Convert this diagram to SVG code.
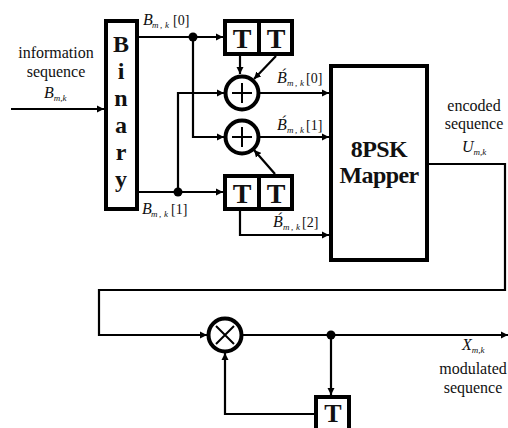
<svg xmlns="http://www.w3.org/2000/svg" width="508" height="428" viewBox="0 0 508 428">
<style>
text{font-family:"Liberation Serif","Times New Roman",serif;fill:#111}
.b{font-weight:bold;font-size:24px;text-anchor:middle}
.t{font-weight:bold;font-size:28px;text-anchor:middle}
.m{font-weight:bold;font-size:24px;text-anchor:middle;letter-spacing:-0.6px}
.l{font-size:16px;text-anchor:middle}
.v{font-size:16px;font-style:italic}
.s{font-size:9px;font-style:italic}
.n{font-size:14px;font-style:normal}
.box{fill:#fff;stroke:#000;stroke-width:4}
.c{fill:none;stroke:#000;stroke-width:2.2}
.o{fill:#fff;stroke:#000;stroke-width:4}
.g{fill:none;stroke:#000;stroke-width:2}
</style>
<defs>
<marker id="a" markerUnits="userSpaceOnUse" markerWidth="8" markerHeight="8" refX="7" refY="4" orient="auto"><path d="M0 0.5L7 4L0 7.5Z" fill="#000"/></marker>
</defs>
<g id="connectors">
<path class="c" d="M11 109H104" marker-end="url(#a)"/>
<path class="c" d="M139 37H223" marker-end="url(#a)"/>
<path class="c" d="M139 192H223" marker-end="url(#a)"/>
<path class="c" d="M193 37V137H224" marker-end="url(#a)"/>
<path class="c" d="M178 192V93H224" marker-end="url(#a)"/>
<path class="c" d="M240 55V74" marker-end="url(#a)"/>
<path class="c" d="M276 56L254 79" marker-end="url(#a)"/>
<path class="c" d="M275 174L254 150" marker-end="url(#a)"/>
<path class="c" d="M260 93H329" marker-end="url(#a)"/>
<path class="c" d="M260 137H329" marker-end="url(#a)"/>
<path class="c" d="M240 211V235H329" marker-end="url(#a)"/>
<path class="c" d="M429 164H505V290H99V335H207" marker-end="url(#a)"/>
<path class="c" d="M243 335H508" marker-end="url(#a)"/>
<path class="c" d="M331 335V395" marker-end="url(#a)"/>
<path class="c" d="M314 414H225V353" marker-end="url(#a)"/>
<circle cx="193" cy="37" r="4.5"/>
<circle cx="178" cy="192" r="4.5"/>
<circle cx="331" cy="335" r="4.5"/>
</g>
<g id="binary">
<rect class="box" x="106" y="21" width="31" height="188"/>
<text class="b" x="121" y="52">B</text>
<text class="b" x="121" y="79">i</text>
<text class="b" x="121" y="106">n</text>
<text class="b" x="121" y="133">a</text>
<text class="b" x="121" y="160">r</text>
<text class="b" x="121" y="187">y</text>
</g>
<g id="delay-top-1"><rect class="box" x="225" y="21" width="34" height="33"/><text class="t" x="242" y="48">T</text></g>
<g id="delay-top-2"><rect class="box" x="259" y="21" width="33" height="33"/><text class="t" x="276" y="48">T</text></g>
<g id="delay-bottom-1"><rect class="box" x="225" y="176" width="34" height="33"/><text class="t" x="242" y="203">T</text></g>
<g id="delay-bottom-2"><rect class="box" x="259" y="176" width="33" height="33"/><text class="t" x="276" y="203">T</text></g>
<g id="adder-1"><circle class="o" cx="242" cy="93" r="16.5"/><path class="g" d="M232 93H252M242 83V103"/></g>
<g id="adder-2"><circle class="o" cx="242" cy="137" r="16.5"/><path class="g" d="M232 137H252M242 127V147"/></g>
<g id="mapper">
<rect class="box" x="331" y="66" width="96" height="194"/>
<text class="m" x="379" y="157">8PSK</text>
<text class="m" x="379" y="183">Mapper</text>
</g>
<g id="multiplier"><circle class="o" cx="225" cy="335" r="16.5"/><path class="g" d="M216 326L234 344M234 326L216 344"/></g>
<g id="delay-feedback"><rect class="box" x="316" y="397" width="33" height="35"/><text class="t" x="333" y="422" style="font-size:26px">T</text></g>
<g id="labels">
<text class="l" x="56" y="58">information</text>
<text class="l" x="56" y="77">sequence</text>
<text x="44" y="98" class="v">B<tspan class="s" dy="3">m,k</tspan></text>
<text x="143" y="25" class="v">B<tspan class="s" x="152" dy="3">m</tspan><tspan class="s" x="160">,</tspan><tspan class="s" x="165">k</tspan><tspan class="n" x="173" dy="-3">[0]</tspan></text>
<text x="142" y="214" class="v">B<tspan class="s" x="151" dy="3">m</tspan><tspan class="s" x="159">,</tspan><tspan class="s" x="164">k</tspan><tspan class="n" x="171" dy="-3">[1]</tspan></text>
<text x="277" y="83" class="v">B&#x301;<tspan class="s" x="287" dy="3">m</tspan><tspan class="s" x="295">,</tspan><tspan class="s" x="300">k</tspan><tspan class="n" x="306" dy="-3">[0]</tspan></text>
<text x="277" y="130" class="v">B&#x301;<tspan class="s" x="287" dy="3">m</tspan><tspan class="s" x="295">,</tspan><tspan class="s" x="300">k</tspan><tspan class="n" x="306" dy="-3">[1]</tspan></text>
<text x="273" y="227" class="v">B&#x301;<tspan class="s" x="283" dy="3">m</tspan><tspan class="s" x="291">,</tspan><tspan class="s" x="296">k</tspan><tspan class="n" x="302" dy="-3">[2]</tspan></text>
<text class="l" x="474" y="111">encoded</text>
<text class="l" x="474" y="129">sequence</text>
<text x="462" y="152" class="v">U<tspan class="s" dy="3">m,k</tspan></text>
<text x="462" y="350" class="v">X<tspan class="s" dy="3">m,k</tspan></text>
<text class="l" x="473" y="374">modulated</text>
<text class="l" x="473" y="393">sequence</text>
</g>
</svg>
